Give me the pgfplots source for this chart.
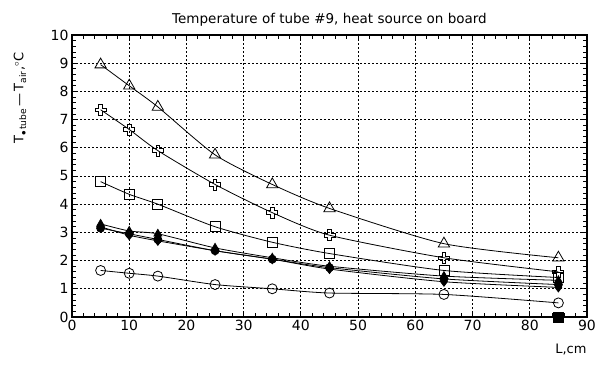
\documentclass[border=0pt]{standalone}
\usepackage{pgfplots}
\pgfplotsset{compat=1.18}
\usepackage{fontspec}
\setmainfont{DejaVu Sans}
\pgfdeclareplotmark{ocross}{%
  \pgfpathmoveto{\pgfqpoint{-0.33\pgfplotmarksize}{\pgfplotmarksize}}%
  \pgfpathlineto{\pgfqpoint{0.33\pgfplotmarksize}{\pgfplotmarksize}}%
  \pgfpathlineto{\pgfqpoint{0.33\pgfplotmarksize}{0.33\pgfplotmarksize}}%
  \pgfpathlineto{\pgfqpoint{\pgfplotmarksize}{0.33\pgfplotmarksize}}%
  \pgfpathlineto{\pgfqpoint{\pgfplotmarksize}{-0.33\pgfplotmarksize}}%
  \pgfpathlineto{\pgfqpoint{0.33\pgfplotmarksize}{-0.33\pgfplotmarksize}}%
  \pgfpathlineto{\pgfqpoint{0.33\pgfplotmarksize}{-\pgfplotmarksize}}%
  \pgfpathlineto{\pgfqpoint{-0.33\pgfplotmarksize}{-\pgfplotmarksize}}%
  \pgfpathlineto{\pgfqpoint{-0.33\pgfplotmarksize}{-0.33\pgfplotmarksize}}%
  \pgfpathlineto{\pgfqpoint{-\pgfplotmarksize}{-0.33\pgfplotmarksize}}%
  \pgfpathlineto{\pgfqpoint{-\pgfplotmarksize}{0.33\pgfplotmarksize}}%
  \pgfpathlineto{\pgfqpoint{-0.33\pgfplotmarksize}{0.33\pgfplotmarksize}}%
  \pgfpathclose\pgfusepathqstroke}
\begin{document}
\begin{tikzpicture}[x=1pt,y=1pt]
\useasboundingbox (0,0) rectangle (598,371);
\begin{axis}[
  at={(72pt,54pt)}, anchor=south west,
  scale only axis, width=515pt, height=282pt,
  xmin=0, xmax=90, ymin=0, ymax=10,
  xtick={0,10,...,90}, ytick={0,1,...,10},
  minor x tick num=4, minor y tick num=4,
  tick align=inside,
  major tick length=6pt, minor tick length=4pt,
  grid=major,
  grid style={black, dash pattern=on 2pt off 2pt, line width=0.8pt},
  axis line style={line width=1.2pt},
  every tick/.style={black, line width=0.8pt},
  tick label style={font=\fontsize{14}{14}\selectfont},
  /pgf/number format/assume math mode=true,
  title={Temperature of tube \#9,\ heat source on board},
  title style={font=\fontsize{13.5}{13.5}\selectfont, yshift=-1pt},
  every axis plot/.append style={black, line width=0.8pt, smooth, tension=0.4},
  mark size=4pt,
]
\addplot[mark=triangle, mark size=6.5pt] coordinates {(5,8.95)(10,8.2)(15,7.45)(25,5.75)(35,4.7)(45,3.85)(65,2.6)(85,2.1)};
\addplot[mark=ocross, mark size=5.5pt] coordinates {(5,7.35)(10,6.65)(15,5.9)(25,4.7)(35,3.7)(45,2.9)(65,2.1)(85,1.6)};
\addplot[mark=square, mark size=5pt] coordinates {(5,4.8)(10,4.35)(15,4.0)(25,3.2)(35,2.65)(45,2.25)(65,1.65)(85,1.4)};
\addplot[mark=triangle*, mark size=4.5pt] coordinates {(5,3.3)(10,3.05)(15,2.95)(25,2.45)(35,2.1)(45,1.8)(65,1.45)(85,1.3)};
\addplot[mark=*, mark size=4pt] coordinates {(5,3.15)(10,2.95)(15,2.75)(25,2.35)(35,2.05)(45,1.75)(65,1.35)(85,1.15)};
\addplot[mark=diamond*, mark size=4.5pt] coordinates {(5,3.2)(10,2.9)(15,2.7)(25,2.35)(35,2.05)(45,1.7)(65,1.25)(85,1.05)};
\addplot[mark=o, mark size=5pt] coordinates {(5,1.65)(10,1.55)(15,1.45)(25,1.15)(35,1.0)(45,0.85)(65,0.8)(85,0.5)};
\addplot[only marks, mark=square*, mark size=5pt] coordinates {(85,0)};
\end{axis}
\node[anchor=east, font=\fontsize{13}{13}\selectfont] at (590,21) {L,cm};
\node[rotate=90, anchor=east, font=\fontsize{13}{13}\selectfont] at (20,322) {T$_{\mathrm{\bullet\,tube}}$\,---\,T$_{\mathrm{air}}$,$^\circ$C};
\end{tikzpicture}
\end{document}
